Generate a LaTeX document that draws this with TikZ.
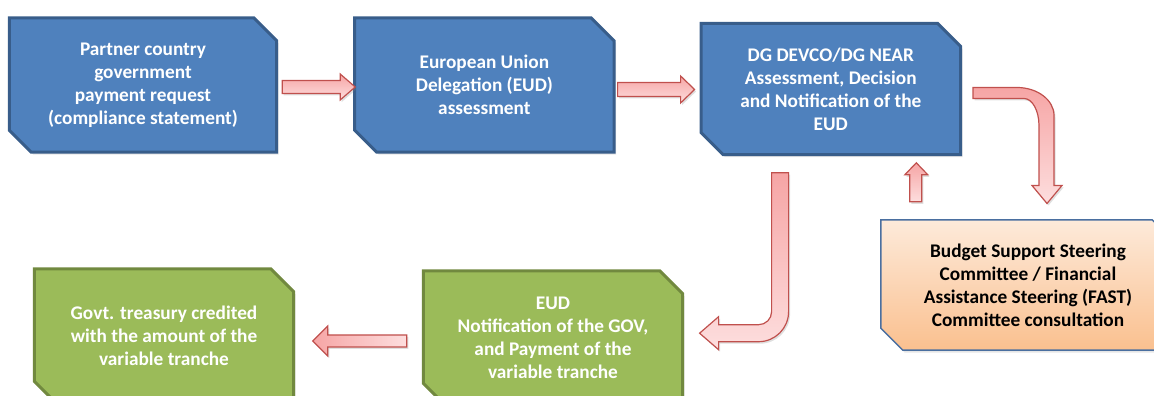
\documentclass[tikz,border=0pt]{standalone}
\usepackage{fontspec}
\setmainfont{Carlito}
\usetikzlibrary{positioning,calc,backgrounds,shadows}

\definecolor{boxblue}{RGB}{79,129,189}
\definecolor{edgeblue}{RGB}{56,93,138}
\definecolor{boxgreen}{RGB}{155,187,89}
\definecolor{edgegreen}{RGB}{113,137,63}
\definecolor{peachtop}{RGB}{253,234,218}
\definecolor{peachbot}{RGB}{250,192,143}
\definecolor{edgepeach}{RGB}{74,111,160}
\definecolor{pinkdark}{RGB}{246,165,165}
\definecolor{pinklight}{RGB}{253,222,222}
\definecolor{edgered}{RGB}{192,80,77}

\begin{document}
\begin{tikzpicture}[x=1pt, y=1pt,
    stage/.style={rectangle, inner sep=0pt, minimum width=259pt, minimum height=134pt,
      align=center, font=\bfseries\fontsize{19.3}{23}\selectfont},
    cut/.style={line width=3pt, line join=miter,
      drop shadow={opacity=.2, shadow xshift=2pt, shadow yshift=-2.5pt}},
    bluecut/.style={cut, fill=boxblue, draw=edgeblue},
    greencut/.style={cut, fill=boxgreen, draw=edgegreen},
    peachcut/.style={cut, line width=1.5pt, top color=peachtop, bottom color=peachbot, draw=edgepeach},
    blockarrow/.style={draw=edgered, line width=1.2pt, line join=miter,
      top color=pinkdark, bottom color=pinklight,
      drop shadow={opacity=.25, shadow xshift=1.5pt, shadow yshift=-2pt}}]

    \useasboundingbox (0,0) rectangle (1154,396);

    \node[stage, text=white, minimum width=267pt] (req) at (143,311)
      {Partner country\\ government\\ payment request\\ (compliance statement)};
    \node[stage, text=white] (eud) [right=78pt of req]
      {European Union\\ Delegation (EUD)\\ assessment};
    \node[stage, text=white, minimum height=131pt] (dg) [right=87pt of eud, yshift=-4pt]
      {DG DEVCO/DG NEAR\\ Assessment, Decision\\ and Notification of the\\ EUD};
    \node[stage, minimum width=294pt, minimum height=130pt] (fast) at (1028,111)
      {Budget Support Steering\\ Committee / Financial\\ Assistance Steering (FAST)\\ Committee consultation};
    \node[stage, text=white] (pay) at (553,58)
      {EUD\\ Notification of the GOV,\\ and Payment of the\\ variable tranche};
    \node[stage, text=white] (treasury) at (164,60)
      {Govt. treasury credited\\ with the amount of the\\ variable tranche};

    % boxes with two cut corners, behind the text
    \begin{scope}[on background layer]
      \foreach \n/\s in {req/bluecut, eud/bluecut, dg/bluecut, fast/peachcut, pay/greencut, treasury/greencut}
        \draw[\s] (\n.north west) -- ($(\n.north east)+(-23,0)$) -- ($(\n.north east)+(0,-23)$)
          -- (\n.south east) -- ($(\n.south west)+(22,0)$) -- ($(\n.south west)+(0,22)$) -- cycle;
    \end{scope}

    % straight block arrows
    \draw[blockarrow] ($(req.east)+(5.5,4.5)$) -- ++(58,0) -- ++(0,6.5) -- ++(15,-13)
      -- ++(-15,-13) -- ++(0,6.5) -- ++(-58,0) -- cycle;
    \draw[blockarrow] ($(eud.east)+(3.5,2.5)$) -- ++(63,0) -- ++(0,6.5) -- ++(14,-13.5)
      -- ++(-14,-13.5) -- ++(0,6.5) -- ++(-63,0) -- cycle;
    \draw[blockarrow, left color=pinkdark, right color=pinklight]
      ($(pay.west)+(-16.5,3)$) -- ++(-79,0) -- ++(0,9) -- ++(-15,-15)
      -- ++(15,-15) -- ++(0,9) -- ++(79,0) -- cycle;
    \draw[blockarrow] ($(fast.north west)+(29,18)$) -- ++(0,27) -- ++(-5,0) -- ++(11.5,12)
      -- ++(11.5,-12) -- ++(-6,0) -- ++(0,-27) -- cycle;

    % bent block arrows
    \draw[blockarrow] ($(dg.east)+(12.5,1.5)$) -- ++(44,0)
      arc[start angle=90, end angle=0, x radius=37, y radius=28] -- ++(0,-70)
      -- ++(8,0) -- ++(-15,-18) -- ++(-15,18) -- ++(7,0) -- ++(0,60)
      arc[start angle=0, end angle=90, x radius=15, y radius=27] -- ++(-51,0) -- cycle;
    \draw[blockarrow] ($(dg.south west)+(70.5,-18)$) -- ++(17,0) -- ++(0,-139)
      arc[start angle=0, end angle=-90, radius=30] -- ++(-40,0) -- ++(0,-8)
      -- ++(-19,16.5) -- ++(19,16.5) -- ++(0,-8) -- ++(40,0)
      arc[start angle=-90, end angle=0, radius=13] -- cycle;
\end{tikzpicture}
\end{document}
